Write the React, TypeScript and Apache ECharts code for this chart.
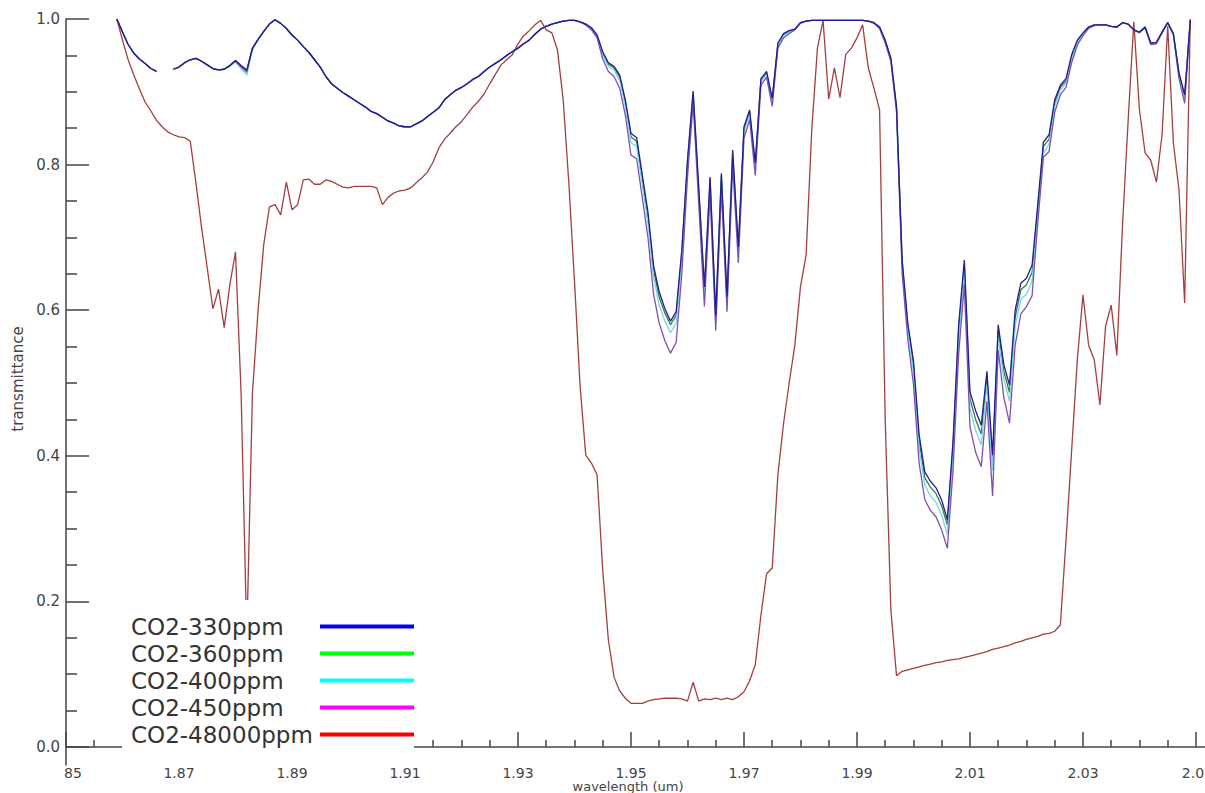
import React, { useEffect, useRef } from "react";
import * as echarts from "echarts";

// wavelength grid (um)
const wavelengths = [
  1.859, 1.860, 1.861, 1.862, 1.863, 1.864, 1.865, 1.866, 1.867, 1.868,
  1.869, 1.870, 1.871, 1.872, 1.873, 1.874, 1.875, 1.876, 1.877, 1.878,
  1.879, 1.880, 1.881, 1.882, 1.883, 1.884, 1.885, 1.886, 1.887, 1.888,
  1.889, 1.890, 1.891, 1.892, 1.893, 1.894, 1.895, 1.896, 1.897, 1.898,
  1.899, 1.900, 1.901, 1.902, 1.903, 1.904, 1.905, 1.906, 1.907, 1.908,
  1.909, 1.910, 1.911, 1.912, 1.913, 1.914, 1.915, 1.916, 1.917, 1.918,
  1.919, 1.920, 1.921, 1.922, 1.923, 1.924, 1.925, 1.926, 1.927, 1.928,
  1.929, 1.930, 1.931, 1.932, 1.933, 1.934, 1.935, 1.936, 1.937, 1.938,
  1.939, 1.940, 1.941, 1.942, 1.943, 1.944, 1.945, 1.946, 1.947, 1.948,
  1.949, 1.950, 1.951, 1.952, 1.953, 1.954, 1.955, 1.956, 1.957, 1.958,
  1.959, 1.960, 1.961, 1.962, 1.963, 1.964, 1.965, 1.966, 1.967, 1.968,
  1.969, 1.970, 1.971, 1.972, 1.973, 1.974, 1.975, 1.976, 1.977, 1.978,
  1.979, 1.980, 1.981, 1.982, 1.983, 1.984, 1.985, 1.986, 1.987, 1.988,
  1.989, 1.990, 1.991, 1.992, 1.993, 1.994, 1.995, 1.996, 1.997, 1.998,
  1.999, 2.000, 2.001, 2.002, 2.003, 2.004, 2.005, 2.006, 2.007, 2.008,
  2.009, 2.010, 2.011, 2.012, 2.013, 2.014, 2.015, 2.016, 2.017, 2.018,
  2.019, 2.020, 2.021, 2.022, 2.023, 2.024, 2.025, 2.026, 2.027, 2.028,
  2.029, 2.030, 2.031, 2.032, 2.033, 2.034, 2.035, 2.036, 2.037, 2.038,
  2.039, 2.040, 2.041, 2.042, 2.043, 2.044, 2.045, 2.046, 2.047, 2.048,
  2.049,
];

const co2_330 = [
  1.000, 0.982, 0.965, 0.953, 0.945, 0.939, 0.932, 0.928, null, null,
  0.931, 0.934, 0.940, 0.944, 0.946, 0.942, 0.937, 0.932, 0.930, 0.931,
  0.936, 0.943, 0.936, 0.930, 0.960, 0.972, 0.983, 0.993, 0.999, 0.994,
  0.987, 0.978, 0.971, 0.962, 0.954, 0.944, 0.934, 0.921, 0.911, 0.905,
  0.899, 0.894, 0.889, 0.884, 0.879, 0.873, 0.870, 0.865, 0.860, 0.857,
  0.853, 0.852, 0.852, 0.856, 0.860, 0.866, 0.872, 0.878, 0.889, 0.896,
  0.902, 0.906, 0.911, 0.917, 0.921, 0.928, 0.934, 0.939, 0.944, 0.950,
  0.955, 0.960, 0.966, 0.971, 0.979, 0.986, 0.990, 0.993, 0.995, 0.997,
  0.998, 0.998, 0.996, 0.993, 0.988, 0.978, 0.955, 0.940, 0.935, 0.923,
  0.889, 0.843, 0.837, 0.786, 0.735, 0.661, 0.625, 0.602, 0.585, 0.598,
  0.683, 0.806, 0.901, 0.768, 0.632, 0.783, 0.593, 0.788, 0.619, 0.820,
  0.687, 0.852, 0.875, 0.802, 0.918, 0.928, 0.891, 0.967, 0.980, 0.984,
  0.986, 0.995, 0.997, 0.998, 0.998, 0.998, 0.998, 0.998, 0.998, 0.998,
  0.998, 0.998, 0.998, 0.997, 0.995, 0.989, 0.971, 0.946, 0.880, 0.669,
  0.582, 0.530, 0.429, 0.378, 0.365, 0.356, 0.339, 0.312, 0.420, 0.580,
  0.669, 0.488, 0.462, 0.442, 0.516, 0.401, 0.580, 0.525, 0.497, 0.600,
  0.637, 0.644, 0.662, 0.745, 0.831, 0.841, 0.889, 0.909, 0.918, 0.951,
  0.971, 0.981, 0.989, 0.992, 0.992, 0.992, 0.990, 0.989, 0.995, 0.993,
  0.985, 0.982, 0.989, 0.967, 0.968, 0.982, 0.995, 0.980, 0.926, 0.896,
  0.999,
];

const co2_360 = [
  1.000, 0.982, 0.965, 0.953, 0.945, 0.939, 0.932, 0.928, null, null,
  0.931, 0.934, 0.940, 0.944, 0.946, 0.942, 0.937, 0.932, 0.930, 0.931,
  0.936, 0.943, 0.935, 0.929, 0.960, 0.972, 0.983, 0.993, 0.999, 0.994,
  0.987, 0.978, 0.971, 0.962, 0.954, 0.944, 0.934, 0.921, 0.911, 0.905,
  0.899, 0.894, 0.889, 0.884, 0.879, 0.873, 0.870, 0.865, 0.860, 0.857,
  0.853, 0.852, 0.852, 0.856, 0.860, 0.866, 0.872, 0.878, 0.889, 0.896,
  0.902, 0.906, 0.911, 0.917, 0.921, 0.928, 0.934, 0.939, 0.944, 0.950,
  0.955, 0.960, 0.966, 0.971, 0.979, 0.986, 0.990, 0.993, 0.995, 0.997,
  0.998, 0.998, 0.996, 0.993, 0.987, 0.977, 0.953, 0.938, 0.933, 0.920,
  0.885, 0.838, 0.832, 0.780, 0.728, 0.655, 0.618, 0.596, 0.580, 0.593,
  0.678, 0.802, 0.898, 0.763, 0.628, 0.779, 0.590, 0.784, 0.615, 0.816,
  0.683, 0.849, 0.872, 0.799, 0.916, 0.926, 0.889, 0.965, 0.978, 0.983,
  0.986, 0.995, 0.997, 0.998, 0.998, 0.998, 0.998, 0.998, 0.998, 0.998,
  0.998, 0.998, 0.998, 0.997, 0.995, 0.989, 0.970, 0.945, 0.878, 0.665,
  0.578, 0.525, 0.420, 0.370, 0.357, 0.348, 0.331, 0.305, 0.412, 0.572,
  0.662, 0.478, 0.450, 0.430, 0.508, 0.392, 0.572, 0.516, 0.487, 0.590,
  0.628, 0.635, 0.652, 0.740, 0.825, 0.835, 0.885, 0.906, 0.915, 0.948,
  0.969, 0.980, 0.989, 0.992, 0.992, 0.992, 0.990, 0.989, 0.995, 0.993,
  0.985, 0.982, 0.989, 0.967, 0.968, 0.982, 0.995, 0.980, 0.924, 0.893,
  0.999,
];

const co2_400 = [
  1.000, 0.982, 0.965, 0.953, 0.945, 0.939, 0.932, 0.928, null, null,
  0.931, 0.934, 0.940, 0.944, 0.946, 0.942, 0.937, 0.932, 0.930, 0.931,
  0.935, 0.941, 0.932, 0.923, 0.958, 0.971, 0.983, 0.993, 0.999, 0.994,
  0.987, 0.978, 0.971, 0.962, 0.954, 0.944, 0.934, 0.921, 0.911, 0.905,
  0.899, 0.894, 0.889, 0.884, 0.879, 0.873, 0.870, 0.865, 0.860, 0.857,
  0.853, 0.852, 0.852, 0.856, 0.860, 0.866, 0.872, 0.878, 0.889, 0.896,
  0.902, 0.906, 0.911, 0.917, 0.921, 0.928, 0.934, 0.939, 0.944, 0.950,
  0.955, 0.960, 0.966, 0.971, 0.979, 0.986, 0.990, 0.993, 0.995, 0.997,
  0.998, 0.998, 0.996, 0.992, 0.986, 0.976, 0.950, 0.935, 0.930, 0.916,
  0.880, 0.830, 0.825, 0.772, 0.720, 0.645, 0.607, 0.585, 0.569, 0.582,
  0.670, 0.796, 0.894, 0.757, 0.622, 0.773, 0.585, 0.778, 0.610, 0.811,
  0.678, 0.845, 0.869, 0.795, 0.914, 0.924, 0.886, 0.963, 0.977, 0.982,
  0.986, 0.995, 0.997, 0.998, 0.998, 0.998, 0.998, 0.998, 0.998, 0.998,
  0.998, 0.998, 0.998, 0.997, 0.995, 0.988, 0.969, 0.944, 0.876, 0.660,
  0.572, 0.515, 0.410, 0.360, 0.345, 0.336, 0.318, 0.292, 0.400, 0.560,
  0.652, 0.465, 0.435, 0.415, 0.498, 0.380, 0.562, 0.505, 0.475, 0.578,
  0.615, 0.622, 0.640, 0.732, 0.815, 0.828, 0.880, 0.902, 0.912, 0.945,
  0.967, 0.979, 0.988, 0.992, 0.992, 0.992, 0.990, 0.989, 0.995, 0.993,
  0.985, 0.982, 0.989, 0.966, 0.967, 0.982, 0.995, 0.979, 0.922, 0.890,
  0.999,
];

const co2_450 = [
  1.000, 0.982, 0.965, 0.953, 0.945, 0.939, 0.932, 0.928, null, null,
  0.931, 0.934, 0.940, 0.944, 0.946, 0.942, 0.937, 0.932, 0.930, 0.931,
  0.936, 0.942, 0.934, 0.927, 0.959, 0.972, 0.983, 0.993, 0.999, 0.994,
  0.987, 0.978, 0.971, 0.962, 0.954, 0.944, 0.934, 0.921, 0.911, 0.905,
  0.899, 0.894, 0.889, 0.884, 0.879, 0.873, 0.870, 0.865, 0.860, 0.857,
  0.853, 0.852, 0.852, 0.856, 0.860, 0.866, 0.872, 0.878, 0.889, 0.896,
  0.902, 0.906, 0.911, 0.917, 0.921, 0.928, 0.934, 0.939, 0.944, 0.950,
  0.955, 0.960, 0.966, 0.971, 0.979, 0.986, 0.990, 0.993, 0.995, 0.997,
  0.998, 0.998, 0.996, 0.992, 0.985, 0.974, 0.945, 0.928, 0.921, 0.905,
  0.868, 0.813, 0.808, 0.755, 0.700, 0.622, 0.582, 0.558, 0.541, 0.556,
  0.650, 0.782, 0.885, 0.745, 0.605, 0.760, 0.572, 0.765, 0.598, 0.800,
  0.665, 0.836, 0.862, 0.785, 0.909, 0.920, 0.880, 0.960, 0.974, 0.980,
  0.985, 0.994, 0.997, 0.998, 0.998, 0.998, 0.998, 0.998, 0.998, 0.998,
  0.998, 0.998, 0.998, 0.997, 0.994, 0.987, 0.967, 0.942, 0.872, 0.650,
  0.560, 0.498, 0.390, 0.340, 0.325, 0.316, 0.298, 0.273, 0.380, 0.540,
  0.635, 0.440, 0.405, 0.385, 0.475, 0.345, 0.545, 0.480, 0.445, 0.552,
  0.595, 0.605, 0.620, 0.720, 0.810, 0.818, 0.872, 0.896, 0.906, 0.940,
  0.964, 0.977, 0.987, 0.991, 0.992, 0.992, 0.990, 0.989, 0.995, 0.993,
  0.985, 0.981, 0.988, 0.965, 0.966, 0.981, 0.995, 0.978, 0.918, 0.884,
  0.999,
];

const co2_48000 = [
  1.000, 0.971, 0.944, 0.923, 0.904, 0.886, 0.874, 0.861, 0.852, 0.845,
  0.841, 0.838, 0.837, 0.832, 0.775, 0.713, 0.658, 0.602, 0.629, 0.576,
  0.635, 0.680, 0.484, 0.150, 0.486, 0.600, 0.690, 0.742, 0.745, 0.731,
  0.776, 0.738, 0.745, 0.779, 0.780, 0.773, 0.773, 0.779, 0.777, 0.773,
  0.769, 0.768, 0.770, 0.770, 0.770, 0.770, 0.768, 0.745, 0.755, 0.761,
  0.764, 0.765, 0.768, 0.775, 0.782, 0.790, 0.804, 0.823, 0.835, 0.843,
  0.852, 0.859, 0.869, 0.879, 0.887, 0.897, 0.911, 0.924, 0.937, 0.944,
  0.951, 0.966, 0.977, 0.984, 0.992, 0.998, 0.985, 0.981, 0.957, 0.889,
  0.775, 0.640, 0.495, 0.401, 0.390, 0.374, 0.243, 0.147, 0.096, 0.077,
  0.067, 0.060, 0.060, 0.060, 0.063, 0.065, 0.066, 0.067, 0.067, 0.067,
  0.066, 0.063, 0.089, 0.063, 0.066, 0.065, 0.067, 0.065, 0.067, 0.065,
  0.069, 0.076, 0.091, 0.113, 0.181, 0.238, 0.246, 0.374, 0.444, 0.500,
  0.552, 0.632, 0.676, 0.848, 0.960, 0.998, 0.890, 0.933, 0.892, 0.951,
  0.960, 0.974, 0.992, 0.933, 0.905, 0.875, 0.449, 0.188, 0.098, 0.104,
  0.106, 0.108, 0.110, 0.112, 0.114, 0.116, 0.117, 0.119, 0.120, 0.121,
  0.123, 0.125, 0.127, 0.129, 0.131, 0.134, 0.136, 0.138, 0.140, 0.143,
  0.145, 0.148, 0.150, 0.152, 0.155, 0.156, 0.159, 0.168, 0.284, 0.408,
  0.532, 0.621, 0.552, 0.532, 0.470, 0.578, 0.607, 0.538, 0.717, 0.861,
  0.996, 0.875, 0.816, 0.806, 0.776, 0.841, 0.990, 0.830, 0.765, 0.610,
  0.999,
];

const seriesNames = ["CO2-330ppm", "CO2-360ppm", "CO2-400ppm", "CO2-450ppm", "CO2-48000ppm"];
const seriesValues = [co2_330, co2_360, co2_400, co2_450, co2_48000];
const legendColors = ["#0000ff", "#00ff00", "#00ffff", "#ff00ff", "#ff0000"];
const lineColors = ["#1f1f8f", "#3d7a3d", "#72d8e8", "#8050b0", "#a3403f"];

const xMajorTicks = [1.85, 1.87, 1.89, 1.91, 1.93, 1.95, 1.97, 1.99, 2.01, 2.03, 2.05];
const xMajorLabels = ["85", "1.87", "1.89", "1.91", "1.93", "1.95", "1.97", "1.99", "2.01", "2.03", "2.0"];
const xMinorTicks = [
  1.855, 1.86, 1.865, 1.875, 1.88, 1.885, 1.895, 1.9, 1.905, 1.915, 1.92, 1.925,
  1.935, 1.94, 1.945, 1.955, 1.96, 1.965, 1.975, 1.98, 1.985, 1.995, 2.0, 2.005,
  2.015, 2.02, 2.025, 2.035, 2.04, 2.045,
];
const yMajorTicks = [0, 0.2, 0.4, 0.6, 0.8, 1.0];
const yMinorTicks = [0.05, 0.1, 0.15, 0.25, 0.3, 0.35, 0.45, 0.5, 0.55, 0.65, 0.7, 0.75, 0.85, 0.9, 0.95];

const X_MIN = 1.85;
const X_MAX = 2.0516;
const Y_MIN = -0.0247;
const Y_MAX = 1.0;

const AXIS_COLOR = "#444444";
const TEXT_COLOR = "#444444";
const FONT = "DejaVu Sans";

export default function App() {
  const ref = useRef<HTMLDivElement | null>(null);

  useEffect(() => {
    if (!ref.current) return;
    const chart = echarts.init(ref.current, null, { renderer: "svg" });

    const xLabelFormatter = (v: number) => {
      const i = xMajorTicks.findIndex((t) => Math.abs(t - v) < 1e-6);
      if (i < 0) return "";
      if (i === 0) return "{first|" + xMajorLabels[i] + "}";
      if (i === xMajorTicks.length - 1) return "{last|" + xMajorLabels[i] + "}";
      return xMajorLabels[i];
    };

    const series = seriesNames.map((name, k) => ({
      name,
      type: "line",
      data: wavelengths.map((w, i) => [w, seriesValues[k][i]]),
      xAxisIndex: 0,
      yAxisIndex: 0,
      symbol: "none",
      showSymbol: false,
      connectNulls: false,
      silent: true,
      z: k === 0 ? 3 : 2,
      itemStyle: { color: legendColors[k] },
      lineStyle: { color: lineColors[k], width: 1.3 },
      emphasis: { disabled: true },
    }));

    const option: any = {
      animation: false,
      backgroundColor: "#ffffff",
      grid: {
        left: 66,
        right: 0,
        top: 19,
        bottom: 28,
        containLabel: false,
        outerBoundsMode: "none",
      },
      xAxis: [
        {
          type: "value",
          min: X_MIN,
          max: X_MAX,
          position: "bottom",
          name: "wavelength (um)",
          nameLocation: "middle",
          nameGap: 15,
          nameMoveOverlap: false,
          nameTextStyle: {
            fontFamily: FONT,
            fontSize: 13,
            lineHeight: 13,
            color: TEXT_COLOR,
            padding: [0, 15, 0, 0],
          },
          axisLine: { show: true, lineStyle: { color: AXIS_COLOR, width: 1.5 } },
          axisTick: {
            show: true,
            inside: true,
            length: 15,
            customValues: xMajorTicks,
            lineStyle: { color: AXIS_COLOR, width: 1.5 },
          },
          axisLabel: {
            show: true,
            customValues: xMajorTicks,
            formatter: xLabelFormatter,
            margin: 1,
            fontFamily: FONT,
            fontSize: 14,
            lineHeight: 13,
            color: TEXT_COLOR,
            rich: {
              first: { fontFamily: FONT, fontSize: 14, lineHeight: 13, color: TEXT_COLOR, padding: [0, 0, 0, 14] },
              last: { fontFamily: FONT, fontSize: 14, lineHeight: 13, color: TEXT_COLOR, padding: [0, 6, 0, 0] },
            },
          },
          splitLine: { show: false },
        },
        {
          type: "value",
          min: X_MIN,
          max: X_MAX,
          position: "bottom",
          axisLine: { show: false },
          axisTick: {
            show: true,
            inside: true,
            length: 7,
            customValues: xMinorTicks,
            lineStyle: { color: AXIS_COLOR, width: 1.5 },
          },
          axisLabel: { show: false },
          splitLine: { show: false },
        },
      ],
      yAxis: [
        {
          type: "value",
          min: Y_MIN,
          max: Y_MAX,
          position: "left",
          name: "transmittance",
          nameLocation: "middle",
          nameGap: 41,
          nameMoveOverlap: false,
          nameTextStyle: {
            fontFamily: FONT,
            fontSize: 15,
            color: TEXT_COLOR,
            padding: [0, 0, 0, 26],
          },
          axisLine: { show: true, lineStyle: { color: AXIS_COLOR, width: 1.5 } },
          axisTick: {
            show: true,
            inside: true,
            length: 23,
            customValues: yMajorTicks,
            lineStyle: { color: AXIS_COLOR, width: 1.5 },
          },
          axisLabel: {
            show: true,
            customValues: yMajorTicks,
            formatter: (v: number) => v.toFixed(1),
            margin: 6,
            fontFamily: FONT,
            fontSize: 15,
            color: TEXT_COLOR,
          },
          splitLine: { show: false },
        },
        {
          type: "value",
          min: Y_MIN,
          max: Y_MAX,
          position: "left",
          axisLine: { show: false },
          axisTick: {
            show: true,
            inside: true,
            length: 11,
            customValues: yMinorTicks,
            lineStyle: { color: AXIS_COLOR, width: 1.5 },
          },
          axisLabel: { show: false },
          splitLine: { show: false },
        },
      ],
      legend: {
        data: seriesNames,
        orient: "vertical",
        left: 122,
        top: 600,
        align: "right",
        backgroundColor: "#ffffff",
        padding: [15, 0, 14, 9],
        itemGap: 4,
        itemWidth: 94,
        itemHeight: 4,
        icon: "rect",
        symbolKeepAspect: false,
        selectedMode: false,
        itemStyle: { borderWidth: 0 },
        formatter: (name: string) => "{a|" + name + "}",
        textStyle: {
          fontFamily: FONT,
          fontSize: 23,
          color: "#333333",
          rich: {
            a: {
              width: 184,
              align: "left",
              fontFamily: FONT,
              fontSize: 23,
              lineHeight: 23,
              color: "#333333",
            },
          },
        },
      },
      series,
    };

    chart.setOption(option);
    return () => {
      chart.dispose();
    };
  }, []);

  return (
    <div
      ref={ref}
      style={{
        position: "absolute",
        left: 0,
        top: 0,
        width: 1205,
        height: 793,
        background: "#ffffff",
      }}
    />
  );
}
